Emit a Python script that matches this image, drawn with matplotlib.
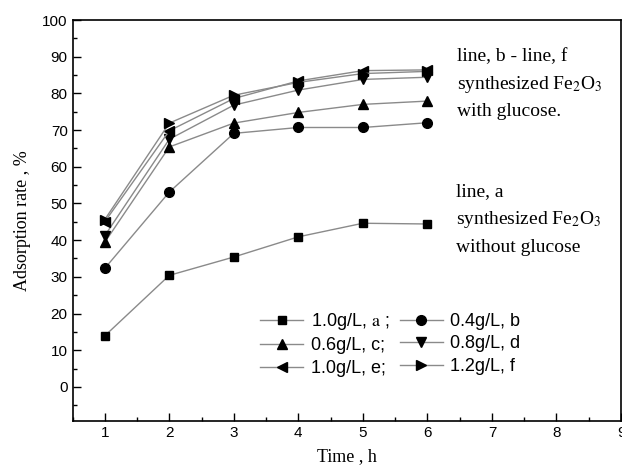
import matplotlib
matplotlib.use("Agg")
import matplotlib.pyplot as plt
from matplotlib.ticker import MultipleLocator

plt.rcParams['font.family'] = ['Liberation Sans', 'DejaVu Sans']
plt.rcParams['mathtext.fontset'] = 'stix'

# time, h
time_h = [1, 2, 3, 4, 5, 6]

# adsorption rate, %
rate_a = [13.9, 30.4, 35.4, 40.9, 44.6, 44.4]
rate_b = [32.3, 53.1, 69.1, 70.7, 70.7, 72.0]
rate_c = [39.4, 65.4, 71.9, 74.8, 77.0, 77.9]
rate_d = [41.2, 67.5, 76.8, 80.9, 83.8, 84.4]
rate_e = [45.0, 69.8, 78.6, 83.4, 86.2, 86.4]
rate_f = [45.6, 71.9, 79.5, 83.0, 85.4, 86.0]

labels = ["1.0g/L, $\\mathrm{a}$ ;", "0.4g/L, b", "0.6g/L, c;",
          "0.8g/L, d", "1.0g/L, e;", "1.2g/L, f"]
markers = ['s', 'o', '^', 'v', '<', '>']
sizes = [6, 7, 7, 7, 7, 7]

txt_top = ["line, b - line, f", "synthesized Fe$_2$O$_3$", "with glucose."]
txt_bot = ["line, a", "synthesized Fe$_2$O$_3$", "without glucose"]

fig = plt.figure(figsize=(6.22, 4.70), dpi=100)
ax = fig.add_axes([72.5/622, (470-421)/470, (621-72.5)/622, (421-20)/470])

series = [rate_a, rate_b, rate_c, rate_d, rate_e, rate_f]
handles = []
for ys, lab, m, s in zip(series, labels, markers, sizes):
    h, = ax.plot(time_h, ys, color='#8a8a8a', lw=1.0, marker=m, ms=s,
                 mfc='black', mec='black', label=lab)
    handles.append(h)

ax.set_xlim(0.5, 9)
ax.set_ylim(-9.3, 100)
ax.xaxis.set_major_locator(MultipleLocator(1))
ax.xaxis.set_minor_locator(MultipleLocator(0.5))
ax.yaxis.set_major_locator(MultipleLocator(10))
ax.yaxis.set_minor_locator(MultipleLocator(5))
ax.tick_params(which='both', direction='in', width=1.0, labelsize=11)
ax.tick_params(which='major', length=6)
ax.tick_params(which='minor', length=3)
for sp in ax.spines.values():
    sp.set_linewidth(1.2)

ax.set_xlabel("Time , h", family='Liberation Serif', fontsize=13, labelpad=6)
ax.set_ylabel("Adsorption rate , %", family='Liberation Serif', fontsize=13, labelpad=8)

# legend filled row by row
order = [0, 2, 4, 1, 3, 5]
ax.legend([handles[i] for i in order], [labels[i] for i in order], ncol=2,
          frameon=False, fontsize=13, loc='upper left',
          bbox_to_anchor=(260/622, (470-311)/470), bbox_transform=fig.transFigure,
          borderaxespad=0, borderpad=0, handlelength=2.4, handletextpad=0.4,
          columnspacing=0.6, labelspacing=0.3)

# notes on the right
for i, t in enumerate(txt_top):
    fig.text(457/622, (470 - (57 + 27.5*i))/470, t, family='Liberation Serif',
             fontsize=14, va='center', ha='left')
for i, t in enumerate(txt_bot):
    fig.text(456/622, (470 - (192 + 27.5*i))/470, t, family='Liberation Serif',
             fontsize=14, va='center', ha='left')

fig.savefig("out.png", dpi=100)
